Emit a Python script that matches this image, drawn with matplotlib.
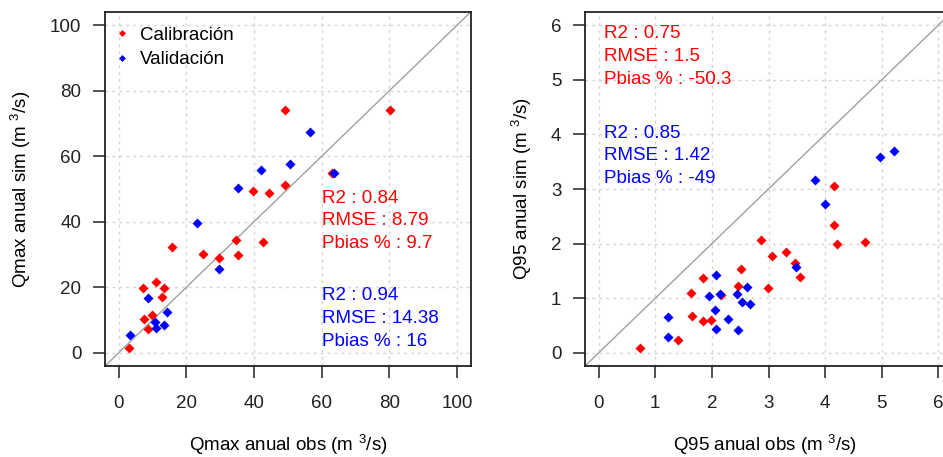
import matplotlib
matplotlib.use('Agg')
import matplotlib.pyplot as plt
from matplotlib.lines import Line2D

plt.rcParams['font.family'] = ['Liberation Sans', 'DejaVu Sans']
plt.rcParams['mathtext.fontset'] = 'custom'
plt.rcParams['mathtext.rm'] = 'Liberation Sans'
plt.rcParams['font.size'] = 13.5

# Qmax (left panel)
qmax_cal_obs = [49.1, 80.3, 62.9, 49.1, 39.8, 44.3, 34.8, 42.7, 15.8, 24.8,
                29.6, 35.2, 7.2, 11.0, 13.4, 12.9, 7.6, 9.9, 8.6, 3.0]
qmax_cal_sim = [74.2, 74.2, 54.8, 51.3, 49.4, 48.9, 34.4, 33.8, 32.3, 30.2,
                28.8, 29.8, 19.7, 21.7, 19.9, 17.2, 10.2, 11.7, 7.3, 1.5]
qmax_val_obs = [56.5, 50.5, 42.0, 63.7, 35.3, 23.3, 29.6, 8.7, 14.4, 10.7, 11.1, 13.5, 3.5]
qmax_val_sim = [67.3, 57.7, 55.7, 54.8, 50.3, 39.7, 25.6, 16.6, 12.4, 9.3, 7.7, 8.4, 5.5]

# Q95 (right panel)
q95_cal_obs = [0.73, 1.40, 1.65, 1.85, 1.99, 1.63, 1.85, 2.16, 2.47, 2.51,
               2.99, 2.87, 3.07, 3.31, 3.47, 3.56, 4.15, 4.15, 4.21, 4.70]
q95_cal_sim = [0.09, 0.24, 0.68, 0.59, 0.61, 1.09, 1.38, 1.06, 1.22, 1.53,
               1.18, 2.06, 1.77, 1.85, 1.64, 1.39, 3.06, 2.34, 2.00, 2.03]
q95_val_obs = [1.22, 1.22, 1.95, 2.08, 2.14, 2.05, 2.08, 2.29, 2.45, 2.53,
               2.62, 2.68, 2.46, 3.48, 3.82, 3.99, 4.96, 5.21]
q95_val_sim = [0.65, 0.30, 1.05, 1.42, 1.07, 0.79, 0.44, 0.62, 1.07, 0.94,
               1.21, 0.89, 0.41, 1.57, 3.17, 2.73, 3.59, 3.70]

qmax_cal_stats = ['R2 : 0.84', 'RMSE : 8.79', 'Pbias % : 9.7']
qmax_val_stats = ['R2 : 0.94', 'RMSE : 14.38', 'Pbias % : 16']
q95_cal_stats = ['R2 : 0.75', 'RMSE : 1.5', 'Pbias % : -50.3']
q95_val_stats = ['R2 : 0.85', 'RMSE : 1.42', 'Pbias % : -49']

RED = '#FF0000'
BLUE = '#0000FF'
W, H = 943, 457


def setup_axes(ax, ticks):
    lo, hi = ticks[0], ticks[-1]
    pad = 0.04 * (hi - lo)
    ax.set_xlim(lo - pad, hi + pad)
    ax.set_ylim(lo - pad, hi + pad)
    ax.set_xticks(ticks)
    ax.set_yticks(ticks)
    ax.grid(True, color='#D3D3D3', linestyle=(0, (2, 3)), linewidth=1)
    ax.set_axisbelow(True)
    ax.axline((0, 0), slope=1, color='#A0A0A0', lw=1, zorder=1)
    for s in ax.spines.values():
        s.set_linewidth(1.3)
        s.set_color('#222222')
    ax.tick_params(length=8.6, width=1.2, color='#333333', labelcolor='#222222')
    ax.tick_params(axis='x', pad=12)
    ax.tick_params(axis='y', pad=8.5)


def stats_block(ax, x, ys, lines, color):
    for y, t in zip(ys, lines):
        ax.text(x, y, t, color=color, ha='left', va='center')


fig = plt.figure(figsize=(W / 100, H / 100), dpi=100)
ax1 = fig.add_axes([105 / W, (H - 366) / H, 365.7 / W, 354 / H])
ax2 = fig.add_axes([585 / W, (H - 366) / H, 367 / W, 354 / H])

# left panel
setup_axes(ax1, [0, 20, 40, 60, 80, 100])
ax1.plot(qmax_cal_obs, qmax_cal_sim, 'D', color=RED, ms=5.5, mec='none', zorder=3)
ax1.plot(qmax_val_obs, qmax_val_sim, 'D', color=BLUE, ms=5.5, mec='none', zorder=3)
stats_block(ax1, 60.1, [47.0, 40.4, 33.5], qmax_cal_stats, RED)
stats_block(ax1, 60.1, [17.4, 10.6, 3.5], qmax_val_stats, BLUE)
ax1.set_xlabel('Qmax anual obs (m $^{3}$/s)', va='center')
ax1.set_ylabel('Qmax anual sim (m $^{3}$/s)', va='center')
ax1.xaxis.set_label_coords(0.5, (366 - 445) / 354)
ax1.yaxis.set_label_coords((21 - 105) / 365.7, 0.5)
handles = [Line2D([], [], ls='none', marker='D', ms=3.5, color=RED, mec='none'),
           Line2D([], [], ls='none', marker='D', ms=3.5, color=BLUE, mec='none')]
ax1.legend(handles, ['Calibración', 'Validación'], loc='upper left',
           bbox_to_anchor=(11.4 / 365.7, (366 - 26.5) / 354), frameon=False,
           handlelength=0.6, handletextpad=0.66, labelspacing=0.4,
           borderaxespad=0, borderpad=0)

# right panel
setup_axes(ax2, [0, 1, 2, 3, 4, 5, 6])
ax2.plot(q95_cal_obs, q95_cal_sim, 'D', color=RED, ms=5.5, mec='none', zorder=3)
ax2.plot(q95_val_obs, q95_val_sim, 'D', color=BLUE, ms=5.5, mec='none', zorder=3)
stats_block(ax2, 0.09, [5.85, 5.42, 5.0], q95_cal_stats, RED)
stats_block(ax2, 0.09, [4.02, 3.61, 3.2], q95_val_stats, BLUE)
ax2.set_xlabel('Q95 anual obs (m $^{3}$/s)', va='center')
ax2.set_ylabel('Q95 anual sim (m $^{3}$/s)', va='center')
ax2.xaxis.set_label_coords(0.5 - 3.5 / 367, (366 - 445) / 354)
ax2.yaxis.set_label_coords((522 - 585) / 367, 0.5)

fig.savefig('out.png', dpi=100)
